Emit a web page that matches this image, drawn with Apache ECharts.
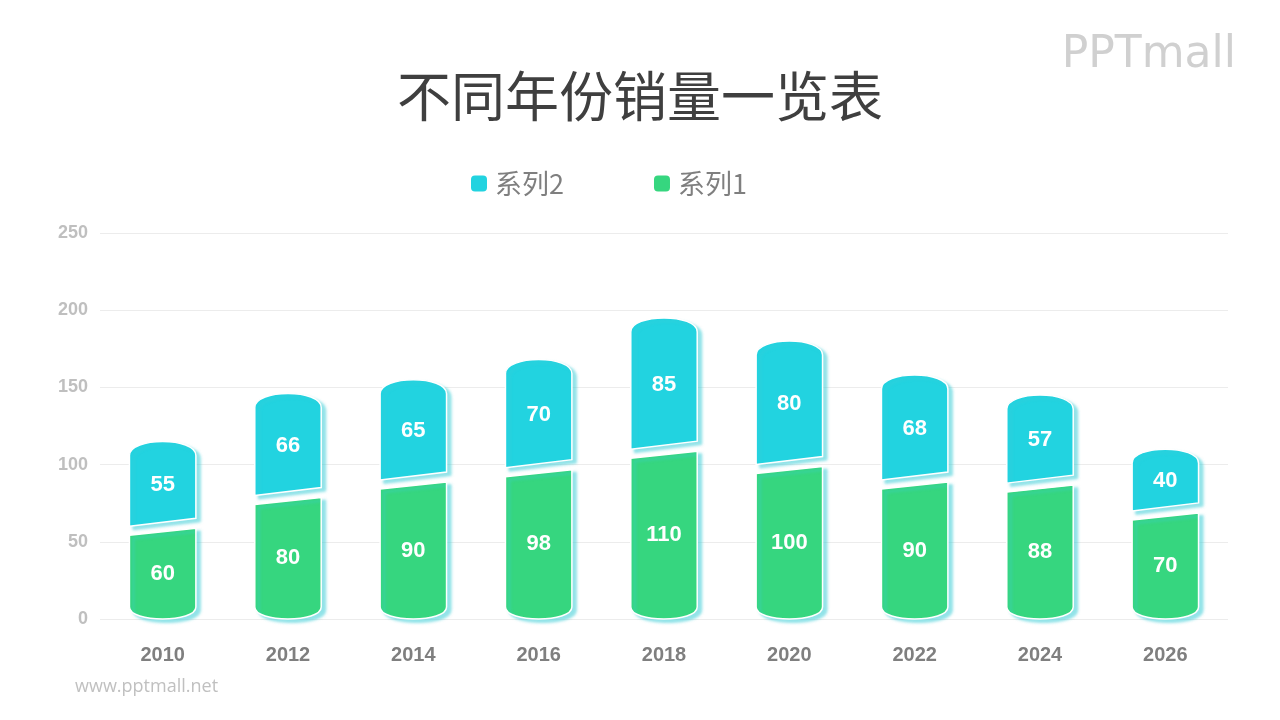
<!DOCTYPE html>
<html><head><meta charset="utf-8">
<script src="https://cdn.jsdelivr.net/npm/echarts@6/dist/echarts.min.js"></script>
<style>html,body{margin:0;padding:0;background:#fff}#c{width:1280px;height:720px}</style>
</head><body><div id="c"></div>
<script>
const years = ['2010','2012','2014','2016','2018','2020','2022','2024','2026'];
const series1 = [60, 80, 90, 98, 110, 100, 90, 88, 70];
const series2 = [55, 66, 65, 70, 85, 80, 68, 57, 40];
const yTicks = [0, 50, 100, 150, 200, 250];

const GREEN = '#36d67f', CYAN = '#22d3e0';
const chart = echarts.init(document.getElementById('c'));
const shadow = {shadowColor:'rgba(60,205,215,0.55)', shadowBlur:3, shadowOffsetX:4, shadowOffsetY:3};

function renderGreen(params, api){
  const i = api.value(0);
  const p0 = api.coord([i, 0]);
  const pv = api.coord([i, api.value(1)]);
  const w = api.size([1,0])[0]*0.53;
  const x0 = p0[0]-w/2, x1 = p0[0]+w/2, y0 = p0[1], yv = pv[1], c = 12;
  const d = `M${x0},${yv+9} L${x1},${yv+2} L${x1},${y0-c} C${x1},${y0+c/3} ${x0},${y0+c/3} ${x0},${y0-c} Z`;
  const mid = api.coord([i, api.value(1)/2])[1];
  return {type:'group', children:[
    {type:'path', shape:{pathData:d}, style:Object.assign({fill:GREEN, stroke:'#fff', lineWidth:1.5}, shadow)},
    {type:'text', style:{text:String(api.value(1)), x:p0[0], y:mid+1, fill:'#fff', font:'bold 22px "Liberation Sans", Arial', align:'center', verticalAlign:'middle'}}
  ]};
}
function renderCyan(params, api){
  const i = api.value(0);
  const base = api.value(1), v = api.value(2);
  const pb = api.coord([i, base]);
  const pt = api.coord([i, base+v]);
  const w = api.size([1,0])[0]*0.53;
  const x0 = pb[0]-w/2, x1 = pb[0]+w/2, yb = pb[1], yt = pt[1], c = 14;
  const d = `M${x0},${yb} L${x1},${yb-8} L${x1},${yt+c} C${x1},${yt-c/3} ${x0},${yt-c/3} ${x0},${yt+c} Z`;
  const mid = api.coord([i, base+v/2])[1];
  return {type:'group', children:[
    {type:'path', shape:{pathData:d}, style:Object.assign({fill:CYAN, stroke:'#fff', lineWidth:1.5}, shadow)},
    {type:'text', style:{text:String(v), x:pb[0], y:mid+1, fill:'#fff', font:'bold 22px "Liberation Sans", Arial', align:'center', verticalAlign:'middle'}}
  ]};
}

chart.setOption({
  animation:false,
  backgroundColor:'#fff',
  title:{text:'不同年份销量一览表', left:'center', top:64, textStyle:{fontSize:54, fontWeight:'normal', color:'#3f3f3f', fontFamily:'"Noto Sans CJK SC", sans-serif'}},
  legend:{top:165, left:466, itemWidth:16, itemHeight:16, itemGap:90, icon:'roundRect',
    data:['系列2','系列1'],
    textStyle:{fontSize:27, color:'#7f7f7f', fontFamily:'"Noto Sans CJK SC", sans-serif', padding:[0,0,0,3]}},
  grid:{left:100, right:52, top:233, bottom:101},
  xAxis:{type:'category', data:years, axisLine:{show:false}, axisTick:{show:false},
    axisLabel:{margin:26, fontSize:20, fontWeight:'bold', color:'#7f7f7f', fontFamily:'"Liberation Sans", Arial'}},
  yAxis:{type:'value', min:yTicks[0], max:yTicks[yTicks.length-1], interval:50,
    axisLine:{show:false}, axisTick:{show:false},
    splitLine:{lineStyle:{color:'#ececec', width:1}},
    axisLabel:{margin:12, fontSize:18, fontWeight:'bold', color:'#bfbfbf', fontFamily:'"Liberation Sans", Arial'}},
  graphic:[
    {type:'text', right:44, top:34, style:{text:'PPTmall', font:'44px "DejaVu Sans", sans-serif', fill:'#d0d0d0'}},
    {type:'text', left:75, top:678, style:{text:'www.pptmall.net', font:'18px "Open Sans", sans-serif', fill:'#c0c0c0'}}
  ],
  series:[
    {name:'系列1', type:'custom', renderItem:renderGreen, itemStyle:{color:GREEN},
      encode:{x:0, y:1}, data:series1.map((v,i)=>[i, v]), z:2},
    {name:'系列2', type:'custom', renderItem:renderCyan, itemStyle:{color:CYAN},
      encode:{x:0, y:[1,2]}, data:series2.map((v,i)=>[i, series1[i], v]), z:3}
  ]
});
</script></body></html>
